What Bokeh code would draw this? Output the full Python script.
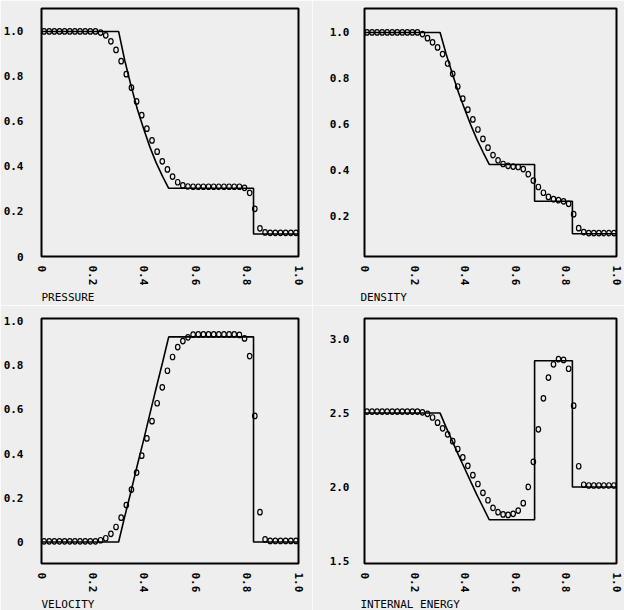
from bokeh.plotting import figure
from bokeh.layouts import column, row
from bokeh.models import FixedTicker, Title, Range1d, PrintfTickFormatter
from bokeh.embed import file_html
from bokeh.resources import INLINE

# ---- numerical solution: cell centres ----
X_CELLS = [0.01, 0.03, 0.05, 0.07, 0.09, 0.11, 0.13, 0.15, 0.17, 0.19,
           0.21, 0.23, 0.25, 0.27, 0.29, 0.31, 0.33, 0.35, 0.37, 0.39,
           0.41, 0.43, 0.45, 0.47, 0.49, 0.51, 0.53, 0.55, 0.57, 0.59,
           0.61, 0.63, 0.65, 0.67, 0.69, 0.71, 0.73, 0.75, 0.77, 0.79,
           0.81, 0.83, 0.85, 0.87, 0.89, 0.91, 0.93, 0.95, 0.97, 0.99]

PRESSURE_NUM = [1.0, 1.0, 1.0, 1.0, 1.0, 1.0, 1.0, 1.0, 1.0, 1.0,
                1.0, 0.995, 0.983, 0.956, 0.918, 0.868, 0.81, 0.75, 0.689, 0.628,
                0.568, 0.516, 0.466, 0.423, 0.387, 0.355, 0.33, 0.316, 0.311, 0.31,
                0.31, 0.31, 0.31, 0.31, 0.31, 0.31, 0.31, 0.31, 0.31, 0.305,
                0.283, 0.212, 0.125, 0.107, 0.105, 0.105, 0.105, 0.105, 0.105, 0.105]

DENSITY_NUM = [1.0, 1.0, 1.0, 1.0, 1.0, 1.0, 1.0, 1.0, 1.0, 1.0,
               1.0, 0.993, 0.975, 0.957, 0.935, 0.906, 0.865, 0.82, 0.765, 0.712,
               0.664, 0.622, 0.578, 0.537, 0.499, 0.467, 0.444, 0.428, 0.42, 0.417,
               0.415, 0.406, 0.384, 0.356, 0.328, 0.303, 0.285, 0.275, 0.271, 0.266,
               0.255, 0.21, 0.149, 0.132, 0.128, 0.128, 0.128, 0.128, 0.128, 0.128]

VELOCITY_NUM = [0.003, 0.003, 0.003, 0.003, 0.003, 0.003, 0.003, 0.003, 0.003, 0.003,
                0.003, 0.008, 0.017, 0.037, 0.068, 0.11, 0.167, 0.237, 0.314, 0.39,
                0.468, 0.546, 0.627, 0.699, 0.774, 0.836, 0.881, 0.908, 0.925, 0.937,
                0.938, 0.938, 0.938, 0.938, 0.938, 0.938, 0.938, 0.938, 0.936, 0.92,
                0.84, 0.57, 0.135, 0.012, 0.005, 0.005, 0.005, 0.005, 0.005, 0.005]

ENERGY_NUM = [2.51, 2.51, 2.51, 2.51, 2.51, 2.51, 2.51, 2.51, 2.51, 2.51,
              2.51, 2.505, 2.495, 2.47, 2.435, 2.397, 2.356, 2.31, 2.257, 2.2,
              2.143, 2.08, 2.02, 1.96, 1.91, 1.858, 1.829, 1.814, 1.811, 1.818,
              1.84, 1.89, 2.0, 2.17, 2.39, 2.6, 2.74, 2.83, 2.865, 2.86,
              2.8, 2.55, 2.14, 2.015, 2.01, 2.01, 2.01, 2.01, 2.01, 2.01]

# ---- exact solution (piecewise) ----
X_EXACT_PU = [0.0, 0.300, 0.324, 0.349, 0.373, 0.398, 0.422, 0.446, 0.471, 0.495,
              0.825, 0.825, 1.0]
PRESSURE_EXACT = [1.0, 1.0, 0.871, 0.756, 0.654, 0.565, 0.486, 0.417, 0.356, 0.303,
                  0.303, 0.100, 0.100]
VELOCITY_EXACT = [0.0, 0.0, 0.116, 0.232, 0.348, 0.464, 0.580, 0.695, 0.811, 0.927,
                  0.927, 0.0, 0.0]

X_EXACT_DE = [0.0, 0.300, 0.324, 0.349, 0.373, 0.398, 0.422, 0.446, 0.471, 0.495,
              0.675, 0.675, 0.825, 0.825, 1.0]
DENSITY_EXACT = [1.0, 1.0, 0.906, 0.819, 0.739, 0.665, 0.597, 0.535, 0.478, 0.426,
                 0.426, 0.266, 0.266, 0.125, 0.125]
ENERGY_EXACT = [2.5, 2.5, 2.403, 2.308, 2.215, 2.123, 2.034, 1.946, 1.861, 1.778,
                1.778, 2.854, 2.854, 2.0, 2.0]

X_TICKS = [0, 0.2, 0.4, 0.6, 0.8, 1.0]
Y_TICKS_P = [0, 0.2, 0.4, 0.6, 0.8, 1.0]
Y_TICKS_D = [0.2, 0.4, 0.6, 0.8, 1.0]
Y_TICKS_U = [0, 0.2, 0.4, 0.6, 0.8, 1.0]
Y_TICKS_E = [1.5, 2.0, 2.5, 3.0]

FONT = "DejaVu Sans Mono"
BG = "#eeeeee"


def panel(xn, yn, xe, ye, yrange, yticks, label, left, top, bottom, right, label_offset):
    p = figure(width=312, height=305, x_range=Range1d(0, 1.0), y_range=Range1d(*yrange),
               output_backend="svg", toolbar_location=None,
               min_border_left=left, min_border_right=right,
               min_border_top=top, min_border_bottom=bottom)
    p.background_fill_color = BG
    p.border_fill_color = BG
    p.outline_line_color = "black"
    p.outline_line_width = 2
    p.grid.visible = False
    for ax in (p.xaxis[0], p.yaxis[0]):
        ax.axis_line_color = None
        ax.major_tick_line_color = None
        ax.minor_tick_line_color = None
        ax.major_label_text_font = FONT
        ax.major_label_text_font_size = "11px"
        ax.major_label_text_font_style = "bold"
        ax.major_label_text_color = "black"
        ax.formatter = PrintfTickFormatter(format="%.1f")
        ax.major_label_overrides = {0: "0"}
    p.xaxis.ticker = FixedTicker(ticks=X_TICKS)
    p.yaxis.ticker = FixedTicker(ticks=yticks)
    p.xaxis.major_label_orientation = "vertical"
    p.xaxis.major_label_standoff = 3
    p.yaxis.major_label_standoff = 12 if left < 45 else 9

    p.line(xe, ye, line_color="black", line_width=1.6)
    p.ellipse(xn, yn, width=4.5, height=5.5, width_units="screen", height_units="screen",
              fill_color=None, line_color="black", line_width=1.2)

    t = Title(text=label, align="left", text_font=FONT, text_font_size="11px",
              text_font_style="normal", text_color="black", offset=label_offset,
              standoff=0)
    p.add_layout(t, "below")
    return p


p1 = panel(X_CELLS, PRESSURE_NUM, X_EXACT_PU, PRESSURE_EXACT, (0.0, 1.102), Y_TICKS_P,
           "PRESSURE", 39, 8, 49, 14, 0)
p2 = panel(X_CELLS, DENSITY_NUM, X_EXACT_DE, DENSITY_EXACT, (0.026, 1.104), Y_TICKS_D,
           "DENSITY", 52, 8, 49, 8, -4)
p3 = panel(X_CELLS, VELOCITY_NUM, X_EXACT_PU, VELOCITY_EXACT, (-0.097, 1.01), Y_TICKS_U,
           "VELOCITY", 39, 13, 44, 14, 0)
p4 = panel(X_CELLS, ENERGY_NUM, X_EXACT_DE, ENERGY_EXACT, (1.482, 3.14), Y_TICKS_E,
           "INTERNAL ENERGY", 52, 13, 44, 8, -4)

layout = column(row(p1, p2, spacing=0), row(p3, p4, spacing=0), spacing=0)
open("out.html", "w").write(file_html(layout, INLINE))
